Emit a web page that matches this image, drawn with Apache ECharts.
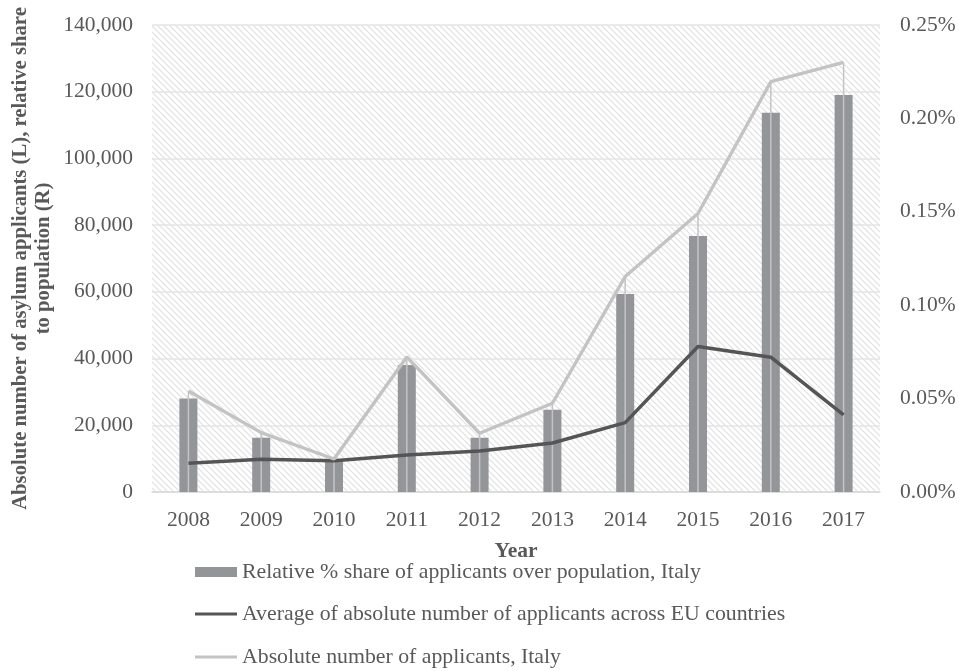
<!DOCTYPE html>
<html>
<head>
<meta charset="utf-8">
<script src="https://cdn.jsdelivr.net/npm/echarts@6/dist/echarts.min.js"></script>
<style>
  html, body { margin: 0; padding: 0; background: #ffffff; }
  #chart { width: 959px; height: 671px; }
</style>
</head>
<body>
<div id="chart"></div>
<script>
// Asylum applicants, Italy vs EU average, 2008-2017
var years = ['2008', '2009', '2010', '2011', '2012', '2013', '2014', '2015', '2016', '2017'];
// Relative share of applicants over population, Italy (in %)
var italyShare = [0.050, 0.029, 0.017, 0.068, 0.029, 0.044, 0.106, 0.137, 0.203, 0.2125];
// Average absolute number of applicants across EU countries
var euAverage = [8600, 9800, 9400, 11100, 12300, 14700, 20800, 43600, 40400, 23100];
// Absolute number of applicants, Italy
var italyAbsolute = [30300, 17800, 9900, 40500, 17600, 26600, 64600, 83500, 123000, 128800];

var leftTicks = { min: 0, max: 140000, interval: 20000 };
var rightTicks = { min: 0, max: 0.25, interval: 0.05 };

var NAME_SHARE = 'Relative % share of applicants over population, Italy';
var NAME_EU = 'Average of absolute number of applicants across EU countries';
var NAME_IT = 'Absolute number of applicants, Italy';

// diagonal hatch used as plot background
function hatchTile() {
  var s = 6;
  var c = document.createElement('canvas');
  c.width = s; c.height = s;
  var g = c.getContext('2d');
  g.fillStyle = '#ffffff';
  g.fillRect(0, 0, s, s);
  g.strokeStyle = '#e0e0e0';
  g.lineWidth = 1.2;
  g.beginPath();
  g.moveTo(-s, -s); g.lineTo(2 * s, 2 * s);
  g.moveTo(-s, 0); g.lineTo(s, 2 * s);
  g.moveTo(0, -s); g.lineTo(2 * s, s);
  g.stroke();
  return c;
}

var textGray = '#595959';
var serif = '"Liberation Serif", "Times New Roman", serif';

// one legend box per row so the three entries stack in a single column
function legendRow(name, top, iconHeight) {
  return {
    left: 195,
    top: top,
    padding: 0,
    itemWidth: 42,
    itemHeight: iconHeight,
    icon: 'rect',
    selectedMode: false,
    textStyle: { fontFamily: serif, fontSize: 21.8, color: textGray },
    data: [name]
  };
}

var chart = echarts.init(document.getElementById('chart'), null, { renderer: 'canvas' });
chart.setOption({
  animation: false,
  textStyle: { fontFamily: serif },
  grid: {
    left: 152, right: 79, top: 25, bottom: 179,
    outerBoundsMode: 'none',
    containLabel: false,
    show: true,
    borderWidth: 0,
    backgroundColor: { image: hatchTile(), repeat: 'repeat' }
  },
  legend: [
    legendRow(NAME_SHARE, 561, 10),
    legendRow(NAME_EU, 603, 3),
    legendRow(NAME_IT, 646, 3)
  ],
  xAxis: [{
    type: 'category',
    data: years,
    name: 'Year',
    nameLocation: 'middle',
    nameGap: 48,
    nameMoveOverlap: false,
    nameTextStyle: { fontFamily: serif, fontSize: 21.5, fontWeight: 'bold', color: textGray },
    axisLine: { lineStyle: { color: '#d9d9d9', width: 1.5 } },
    axisTick: { show: false },
    axisLabel: { fontFamily: serif, fontSize: 21.5, color: textGray, margin: 17 },
    splitLine: { show: false }
  }, {
    type: 'category',
    data: years,
    show: false
  }],
  yAxis: [{
    type: 'value',
    min: leftTicks.min, max: leftTicks.max, interval: leftTicks.interval,
    name: 'Absolute number of asylum applicants (L), relative share\nto population (R)',
    nameLocation: 'middle',
    nameRotate: 90,
    nameGap: 97,
    nameMoveOverlap: false,
    nameTextStyle: { fontFamily: serif, fontSize: 20.7, fontWeight: 'bold', color: textGray, lineHeight: 23 },
    axisLine: { show: false },
    axisTick: { show: false },
    axisLabel: {
      fontFamily: serif, fontSize: 21.5, color: textGray, margin: 19,
      formatter: function (v) { return v.toLocaleString('en-US'); }
    },
    splitLine: { lineStyle: { color: '#e4e4e4', width: 1.5 } }
  }, {
    type: 'value',
    min: rightTicks.min, max: rightTicks.max, interval: rightTicks.interval,
    axisLine: { show: false },
    axisTick: { show: false },
    axisLabel: {
      fontFamily: serif, fontSize: 21.5, color: textGray, margin: 20,
      formatter: function (v) { return v.toFixed(2) + '%'; }
    },
    splitLine: { show: false }
  }],
  series: [{
    name: NAME_SHARE,
    type: 'bar',
    xAxisIndex: 0,
    yAxisIndex: 1,
    data: italyShare,
    barWidth: 18,
    itemStyle: { color: '#949599' },
    z: 2
  }, {
    // drop lines from the Italy line points to the axis
    name: 'drop',
    type: 'bar',
    xAxisIndex: 1,
    yAxisIndex: 0,
    data: italyAbsolute,
    barWidth: 1.5,
    itemStyle: { color: '#c4c4c6' },
    silent: true,
    z: 3
  }, {
    name: NAME_EU,
    type: 'line',
    xAxisIndex: 0,
    yAxisIndex: 0,
    data: euAverage,
    symbol: 'none',
    lineStyle: { color: '#555555', width: 3.5 },
    itemStyle: { color: '#555555' },
    z: 4
  }, {
    name: NAME_IT,
    type: 'line',
    xAxisIndex: 0,
    yAxisIndex: 0,
    data: italyAbsolute,
    symbol: 'none',
    lineStyle: { color: '#c3c3c3', width: 3.4 },
    itemStyle: { color: '#c3c3c3' },
    z: 5
  }]
});
</script>
</body>
</html>
